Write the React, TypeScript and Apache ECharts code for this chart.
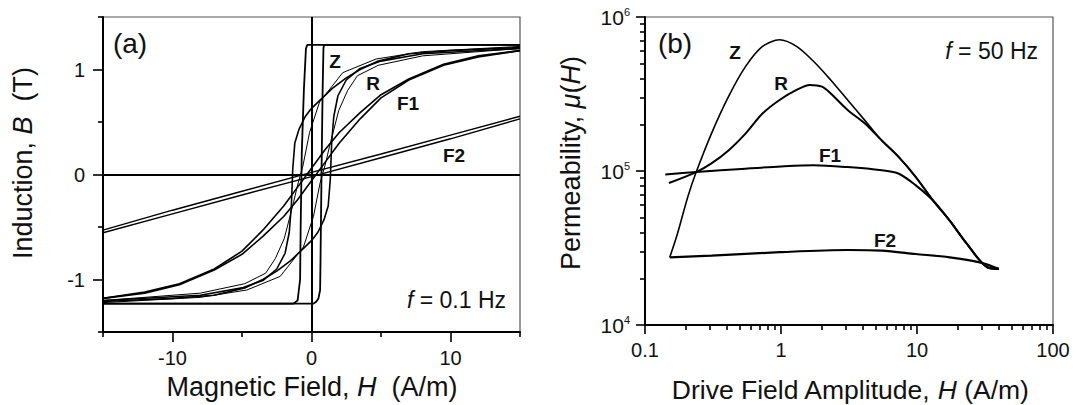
import React, { useEffect, useRef } from 'react';
import * as echarts from 'echarts';

// ---------- Panel (a): hysteresis loops, f = 0.1 Hz (H in A/m, B in T) ----------
const zDescH = [15, -0.3, -0.4, -0.55, -0.7, -0.78, -0.82, -1.0, -1.3, -15];
const zDescB = [1.235, 1.235, 1.2, 0.8, 0.2, -0.5, -1.0, -1.2, -1.23, -1.23];
const zAscH = [-15, 0.15, 0.35, 0.5, 0.62, 0.65, 0.72, 0.8, 0.86, 0.9, 15];
const zAscB = [-1.23, -1.23, -1.21, -1.18, -1.1, -0.8, 0.0, 0.8, 1.2, 1.235, 1.235];

const rDescH = [15, 10, 7, 4.8, 3.5, 2.5, 1.5, 0.86, 0, -0.46, -0.9, -1.2, -1.35, -1.45, -1.6, -1.9, -2.5, -3.5, -5, -8, -15];
const rDescB = [1.21, 1.18, 1.15, 1.08, 1.0, 0.92, 0.82, 0.74, 0.63, 0.55, 0.43, 0.3, 0.05, -0.3, -0.55, -0.75, -0.9, -1.01, -1.08, -1.15, -1.2];
const rAscH = [-15, -10, -7, -4.8, -3.5, -2.5, -1.5, -0.86, 0, 0.46, 0.9, 1.2, 1.35, 1.45, 1.6, 1.9, 2.5, 3.5, 5, 8, 15];
const rAscB = [-1.21, -1.18, -1.15, -1.08, -1.0, -0.92, -0.82, -0.74, -0.63, -0.55, -0.43, -0.3, -0.05, 0.3, 0.55, 0.75, 0.9, 1.01, 1.08, 1.15, 1.2];

const kAscH = [-15, -8, -4.65, -2.25, -0.58, 0.14, 0.62, 1.0, 1.3, 1.96, 2.6, 3.3, 4.8, 8, 15];
const kAscB = [-1.22, -1.17, -1.1, -0.97, -0.69, -0.4, -0.08, 0.1, 0.27, 0.61, 0.8, 0.94, 1.04, 1.13, 1.2];
const kDescH = [15, 8, 4.65, 2.25, 0.58, -0.14, -0.62, -1.0, -1.3, -1.96, -2.6, -3.3, -4.8, -8, -15];
const kDescB = [1.22, 1.17, 1.1, 0.97, 0.69, 0.4, 0.08, -0.1, -0.27, -0.61, -0.8, -0.94, -1.04, -1.13, -1.2];

const f1DescH = [15, 12, 9.5, 7, 5, 3.5, 2, 1, 0, -1, -2, -3.5, -5, -7, -9.5, -12, -15];
const f1DescB = [1.18, 1.13, 1.05, 0.91, 0.76, 0.59, 0.4, 0.24, 0.06, -0.12, -0.3, -0.53, -0.73, -0.9, -1.04, -1.12, -1.18];
const f1AscH = [-15, -12, -9.5, -7, -5, -3.5, -2, -1, 0, 1, 2, 3.5, 5, 7, 9.5, 12, 15];
const f1AscB = [-1.18, -1.13, -1.05, -0.91, -0.76, -0.59, -0.4, -0.24, -0.06, 0.12, 0.3, 0.53, 0.73, 0.9, 1.04, 1.12, 1.18];

const f2DescH = [15, 10, 5, 0, -5, -10, -15];
const f2DescB = [0.555, 0.375, 0.195, 0.02, -0.16, -0.34, -0.53];
const f2AscH = [-15, -10, -5, 0, 5, 10, 15];
const f2AscB = [-0.555, -0.375, -0.195, -0.02, 0.16, 0.34, 0.53];

const aXTicks = [-10, 0, 10];
const aXMinor = [-15, -5, 5, 15];
const aYTicks = [-1, 0, 1];
const aYMinor = [-1.5, -0.5, 0.5, 1.5];

// ---------- Panel (b): permeability vs drive amplitude, f = 50 Hz ----------
const zH = [0.152, 0.173, 0.206, 0.238, 0.308, 0.411, 0.548, 0.731, 0.976, 1.3, 1.74, 2.32, 3.09, 4.12, 5.5, 7.35, 9.8, 13.1, 17.4, 23.3, 32.9, 40];
const zMu = [27500, 39000, 67600, 98400, 175000, 304000, 476000, 644000, 711000, 644000, 514000, 390000, 289000, 214000, 158000, 123000, 91400, 64400, 47600, 33600, 23700, 23200];
const rH = [0.15, 0.238, 0.308, 0.411, 0.548, 0.731, 0.976, 1.3, 1.63, 2.0, 2.32, 3.09, 4.12, 5.5, 7.35, 9.8, 13.1, 17.4, 23.3, 32.9, 40];
const rMu = [83600, 98400, 112000, 136000, 175000, 236000, 289000, 336000, 362000, 353000, 319000, 249000, 204000, 158000, 123000, 91400, 64400, 47600, 33600, 23700, 23200];
const f1H = [0.141, 0.238, 0.548, 1.0, 1.74, 3.09, 5.5, 7.35, 9.8, 13.1, 17.4, 23.3, 32.9, 40];
const f1Mu = [95000, 98400, 103500, 107000, 109000, 106000, 101000, 96000, 80700, 64400, 47600, 33600, 23700, 23200];
const f2H = [0.152, 0.308, 0.976, 3.09, 5.5, 9.8, 17.4, 28.9, 40];
const f2Mu = [27500, 28200, 29700, 30700, 30400, 28900, 27500, 25500, 23100];

const bXMinor = [0.2, 0.3, 0.4, 0.5, 0.6, 0.7, 0.8, 0.9, 2, 3, 4, 5, 6, 7, 8, 9, 20, 30, 40, 50, 60, 70, 80, 90];
const bYMinor = [20000, 30000, 40000, 50000, 60000, 70000, 80000, 90000, 200000, 300000, 400000, 500000, 600000, 700000, 800000, 900000];

const pairs = (xs: number[], ys: number[]) => xs.map((x, i) => [x, ys[i]]);

const FONT = '"Liberation Sans", Arial, Helvetica, sans-serif';
const INK = '#111';

export default function App() {
  const ref = useRef<HTMLDivElement>(null);

  useEffect(() => {
    const chart = echarts.init(ref.current!, null, { renderer: 'svg' });

    const tickLine = { color: '#000', width: 1.6 };
    const label = { fontSize: 20, color: INK, fontFamily: FONT };

    const loop = (name: string, data: number[][], width: number, extra: any = {}) => ({
      type: 'line',
      name,
      xAxisIndex: 0,
      yAxisIndex: 0,
      data,
      showSymbol: false,
      symbol: 'none',
      smooth: false,
      lineStyle: { color: '#000', width },
      z: 3,
      ...extra,
    });
    const curve = (name: string, data: number[][], width: number) => ({
      type: 'line',
      name,
      xAxisIndex: 2,
      yAxisIndex: 2,
      data,
      showSymbol: false,
      symbol: 'none',
      smooth: 0.3,
      lineStyle: { color: '#000', width },
      z: 3,
    });

    const txt = (text: string, x: number, y: number, size: number, opts: any = {}) => ({
      type: 'text',
      x,
      y,
      rotation: opts.rotation || 0,
      z: 10,
      style: {
        text,
        fill: INK,
        fontSize: size,
        fontFamily: FONT,
        fontWeight: opts.bold ? 'bold' : 'normal',
        align: opts.align || 'center',
        textAlign: opts.align || 'center',
        verticalAlign: 'middle',
        textVerticalAlign: 'middle',
        rich: {
          i: { fontStyle: 'italic', fontSize: size, fontFamily: FONT, fill: INK },
        },
      },
    });

    chart.setOption({
      animation: false,
      backgroundColor: '#fff',
      grid: [
        { left: 103, top: 17, width: 417, height: 315, show: true, borderColor: '#555', borderWidth: 1.2 },
        { left: 645, top: 17, width: 408, height: 308, show: true, borderColor: '#555', borderWidth: 1.2 },
      ],
      xAxis: [
        {
          type: 'value', gridIndex: 0, min: -15, max: 15, position: 'bottom',
          axisLine: { show: true, onZero: false, lineStyle: { color: '#000', width: 2 } },
          axisTick: { show: true, length: 10, customValues: aXTicks, lineStyle: tickLine },
          axisLabel: { ...label, margin: 16, customValues: aXTicks },
          splitLine: { show: false },
        },
        {
          type: 'value', gridIndex: 0, min: -15, max: 15, position: 'bottom',
          axisLine: { show: false, onZero: false },
          axisTick: { show: true, length: 5, customValues: aXMinor, lineStyle: tickLine },
          axisLabel: { show: false },
          splitLine: { show: false },
        },
        {
          type: 'log', logBase: 10, gridIndex: 1, min: 0.1, max: 100, position: 'bottom',
          axisLine: { show: true, onZero: false, lineStyle: { color: '#000', width: 2 } },
          axisTick: { show: true, length: 9, lineStyle: tickLine },
          axisLabel: { ...label, margin: 15, formatter: (v: number) => String(Number(v.toPrecision(3))) },
          splitLine: { show: false },
        },
        {
          type: 'log', logBase: 10, gridIndex: 1, min: 0.1, max: 100, position: 'bottom',
          axisLine: { show: false, onZero: false },
          axisTick: { show: true, length: 5, customValues: bXMinor, lineStyle: tickLine },
          axisLabel: { show: false },
          splitLine: { show: false },
        },
      ],
      yAxis: [
        {
          type: 'value', gridIndex: 0, min: -1.5, max: 1.5, position: 'left',
          axisLine: { show: true, onZero: false, lineStyle: { color: '#000', width: 2 } },
          axisTick: { show: true, length: 10, customValues: aYTicks, lineStyle: tickLine },
          axisLabel: { ...label, margin: 18, customValues: aYTicks },
          splitLine: { show: false },
        },
        {
          type: 'value', gridIndex: 0, min: -1.5, max: 1.5, position: 'left',
          axisLine: { show: false, onZero: false },
          axisTick: { show: true, length: 5, customValues: aYMinor, lineStyle: tickLine },
          axisLabel: { show: false },
          splitLine: { show: false },
        },
        {
          type: 'log', logBase: 10, gridIndex: 1, min: 10000, max: 1000000, position: 'left',
          axisLine: { show: true, onZero: false, lineStyle: { color: '#000', width: 2 } },
          axisTick: { show: true, length: 9, lineStyle: tickLine },
          axisLabel: {
            ...label,
            fontSize: 21,
            margin: 15,
            formatter: (v: number) => '10{s|' + Math.round(Math.log10(v)) + '}',
            rich: { s: { fontSize: 11, fontFamily: FONT, color: INK, verticalAlign: 'top', lineHeight: 11 } },
          },
          splitLine: { show: false },
        },
        {
          type: 'log', logBase: 10, gridIndex: 1, min: 10000, max: 1000000, position: 'left',
          axisLine: { show: false, onZero: false },
          axisTick: { show: true, length: 5, customValues: bYMinor, lineStyle: tickLine },
          axisLabel: { show: false },
          splitLine: { show: false },
        },
      ],
      series: [
        loop('F2 (descending)', pairs(f2DescH, f2DescB), 1.4, {
          markLine: {
            silent: true,
            symbol: ['none', 'none'],
            label: { show: false },
            lineStyle: { color: '#000', width: 2, type: 'solid' },
            data: [{ xAxis: 0 }, { yAxis: 0 }],
          },
        }),
        loop('F2 (ascending)', pairs(f2AscH, f2AscB), 1.4),
        loop('F1 (descending)', pairs(f1DescH, f1DescB), 1.6),
        loop('F1 (ascending)', pairs(f1AscH, f1AscB), 1.6),
        loop('R (descending)', pairs(rDescH, rDescB), 1.6),
        loop('R (ascending)', pairs(rAscH, rAscB), 1.6),
        loop('R inner (descending)', pairs(kDescH, kDescB), 1.0),
        loop('R inner (ascending)', pairs(kAscH, kAscB), 1.0),
        loop('Z (descending)', pairs(zDescH, zDescB), 1.8),
        loop('Z (ascending)', pairs(zAscH, zAscB), 1.8),
        curve('Z', pairs(zH, zMu), 1.6),
        curve('R', pairs(rH, rMu), 2),
        curve('F1', pairs(f1H, f1Mu), 2),
        curve('F2', pairs(f2H, f2Mu), 2.2),
      ],
      graphic: [
        txt('(a)', 130, 43, 28),
        txt('Z', 335, 61, 19, { bold: true }),
        txt('R', 373, 83, 19, { bold: true }),
        txt('F1', 408, 103, 19, { bold: true }),
        txt('F2', 454, 155, 19, { bold: true }),
        txt('{i|f} = 0.1 Hz', 506, 300, 23, { align: 'right' }),
        txt('Induction, {i|B}  (T)', 23, 163, 27, { rotation: Math.PI / 2 }),
        txt('Magnetic Field, {i|H}  (A/m)', 312, 387, 27),
        txt('(b)', 675, 43, 28),
        txt('Z', 735, 52, 19, { bold: true }),
        txt('R', 781, 83, 19, { bold: true }),
        txt('F1', 830, 155, 19, { bold: true }),
        txt('F2', 885, 240, 19, { bold: true }),
        txt('{i|f} = 50 Hz', 1038, 51, 23, { align: 'right' }),
        txt('Permeability, {i|μ}({i|H})', 571, 163, 27, { rotation: Math.PI / 2 }),
        txt('Drive Field Amplitude, {i|H} (A/m)', 850, 390, 26.5),
      ],
    });

    return () => chart.dispose();
  }, []);

  return (
    <div
      ref={ref}
      style={{ position: 'fixed', left: 0, top: 0, width: 1076, height: 405, background: '#fff' }}
    />
  );
}
